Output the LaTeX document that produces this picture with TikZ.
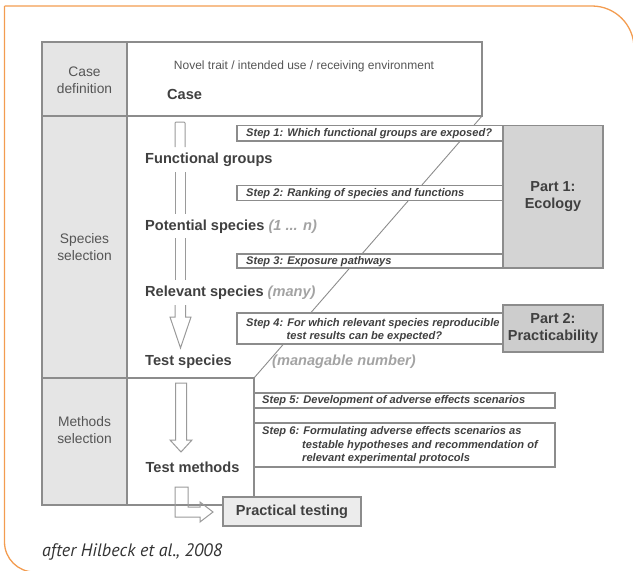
\documentclass[tikz,border=0pt]{standalone}
\usepackage{fontspec}
\setmainfont{Liberation Sans}
\newfontfamily\capfont{PT Sans}
\definecolor{frameor}{HTML}{F39C50}
\definecolor{ln}{HTML}{8C8C8C}
\definecolor{cellg}{HTML}{E5E5E5}
\definecolor{partg}{HTML}{D4D4D4}
\definecolor{partgb}{HTML}{CDCDCD}
\definecolor{ptg}{HTML}{ECECEC}
\definecolor{txt}{HTML}{404040}
\definecolor{coltext}{HTML}{555555}
\definecolor{lgt}{HTML}{A3A3A3}
\definecolor{arrg}{HTML}{9A9A9A}
\definecolor{captxt}{HTML}{333333}
\begin{document}
\begin{tikzpicture}[x=1pt,y=-1pt,
  tl/.style={draw=ln, line width=0.9pt},
  cell/.style={draw=ln, line width=1.1pt, fill=cellg, inner sep=0pt, outer sep=0pt},
  wbox/.style={draw=ln, line width=1.1pt, fill=white, inner sep=0pt, outer sep=0pt},
  pbox/.style={draw=ln, line width=1.1pt, inner sep=0pt, outer sep=0pt, align=center,
    font=\fontsize{14.5}{17}\selectfont\bfseries, text=txt},
  lbl/.style={font=\fontsize{14.6}{16}\selectfont\bfseries, text=txt, anchor=west, inner sep=0pt},
  steptxt/.style={font=\fontsize{11.1}{13.5}\selectfont\bfseries\itshape, text=txt, anchor=west, inner sep=0pt, align=left},
  coltxt/.style={font=\fontsize{13.8}{17}\selectfont, text=coltext, align=center, inner sep=0pt},
  blockarrow/.style={draw=arrg, line width=1pt, line join=miter},
]
\useasboundingbox (0,0) rectangle (633,571);
% frame
\draw[frameor, line width=1.3pt, rounded corners=42pt] (4.5,6) -- (634,6) -- (634,300);
\draw[frameor, line width=1.3pt, rounded corners=30pt] (4.5,6) -- (4.5,572) -- (300,572);

% left column
\node[cell, minimum width=85pt, minimum height=74pt] (cdef) at (84.5,79) {};
\node[coltxt] (cdeft) at (84.5,80) {Case\\definition};
\node[cell, minimum width=85pt, minimum height=262pt] (sel) at (84.5,247) {};
\node[coltxt] (selt) at (84.5,247.5) {Species\\selection};
\node[cell, minimum width=85pt, minimum height=127pt] (msel) at (84.5,441.5) {};
\node[coltxt] (mselt) at (84.5,430.5) {Methods\\selection};

% case row and methods box
\node[wbox, minimum width=355pt, minimum height=74pt] (caserow) at (304.5,79) {};
\node[wbox, minimum width=127pt, minimum height=127pt] (methbox) at (190.5,441.5) {};
\draw[tl] (caserow.south east) -- (methbox.north east);

% steps
\node[wbox, minimum width=266pt, minimum height=15.5pt] (s1) at (370,133.25) {};
\node[steptxt] (s1t) at (246,133.5) {Step 1: Which functional groups are exposed?};
\node[wbox, minimum width=266pt, minimum height=15pt] (s2) at (370,193) {};
\node[steptxt] (s2t) at (246,193.2) {Step 2: Ranking of species and functions};
\node[wbox, minimum width=266pt, minimum height=14pt] (s3) at (370,261) {};
\node[steptxt] (s3t) at (246,261.2) {Step 3: Exposure pathways};
\node[wbox, minimum width=266pt, minimum height=31pt] (s4) at (370,328.5) {};
\node[steptxt] (s4t) at (246,330) {Step 4: For which relevant species reproducible\\\hspace{40.5pt}test results can be expected?};
\node[wbox, minimum width=301pt, minimum height=15pt] (s5) at (404.5,400.5) {};
\node[steptxt] (s5t) at (262,400.7) {Step 5: Development of adverse effects scenarios};
\node[wbox, minimum width=301pt, minimum height=44pt] (s6) at (404.5,445) {};
\node[steptxt] (s6t) at (262,445.5) {Step 6: Formulating adverse effects scenarios as\\\hspace{40pt}testable hypotheses and recommendation of\\\hspace{40pt}relevant experimental protocols};

% parts
\node[pbox, fill=partg, minimum width=100pt, minimum height=142.5pt] (p1) at (553,196.75) {Part 1:\\Ecology};
\node[pbox, fill=partgb, minimum width=100pt, minimum height=47pt] (p2) at (553,328.5) {Part 2:\\Practicability};
\node[pbox, fill=ptg, minimum width=138pt, minimum height=29pt] (pt) at (292,511.5) {Practical testing};

% labels
\node[font=\fontsize{12}{14}\selectfont, text=coltext, inner sep=0pt] (novel) at (304,66) {Novel trait / intended use / receiving environment};
\node[lbl] (case) at (167,94) {Case};
\node[lbl] (fg) at (145,160) {Functional groups};
\node[lbl] (ps) at (145,227) {Potential species \textcolor{lgt}{\itshape(1 ... n)}};
\node[lbl] (rs) at (145,293) {Relevant species \textcolor{lgt}{\itshape(many)}};
\node[lbl] (ts) at (145,362) {Test species};
\node[lbl, text=lgt, font=\fontsize{14.6}{16}\selectfont\bfseries\itshape] (mn) at (272,362) {(managable number)};
\node[lbl, anchor=center] (tm) at (192.5,467) {Test methods};

% block arrows
\draw[blockarrow, rounded corners=1pt] (175,147) -- (175,122) -- (185,122) -- (185,147);
\draw[blockarrow] (175,172) -- (175,214) (185,172) -- (185,214);
\draw[blockarrow] (175,238) -- (175,280) (185,238) -- (185,280);
\draw[blockarrow] (175,305) -- (175,317) -- (170,317) -- (180.5,348) -- (191,317) -- (185.5,317) -- (185.5,305);
\draw[blockarrow] (175.5,383) -- (186.5,383) -- (186.5,440) -- (192,440) -- (181,452) -- (170,440) -- (175.5,440) -- cycle;
\draw[blockarrow] (175,487) -- (188,487) -- (188,507) -- (200,507) -- (200,502) -- (213,512) -- (200,522) -- (200,517) -- (175,517) -- cycle;

% caption
\node[font=\capfont\itshape\fontsize{18}{20}\selectfont, text=captxt, anchor=west, inner sep=0pt] (cap) at (42,552) {after Hilbeck et al., 2008};
\end{tikzpicture}
\end{document}
